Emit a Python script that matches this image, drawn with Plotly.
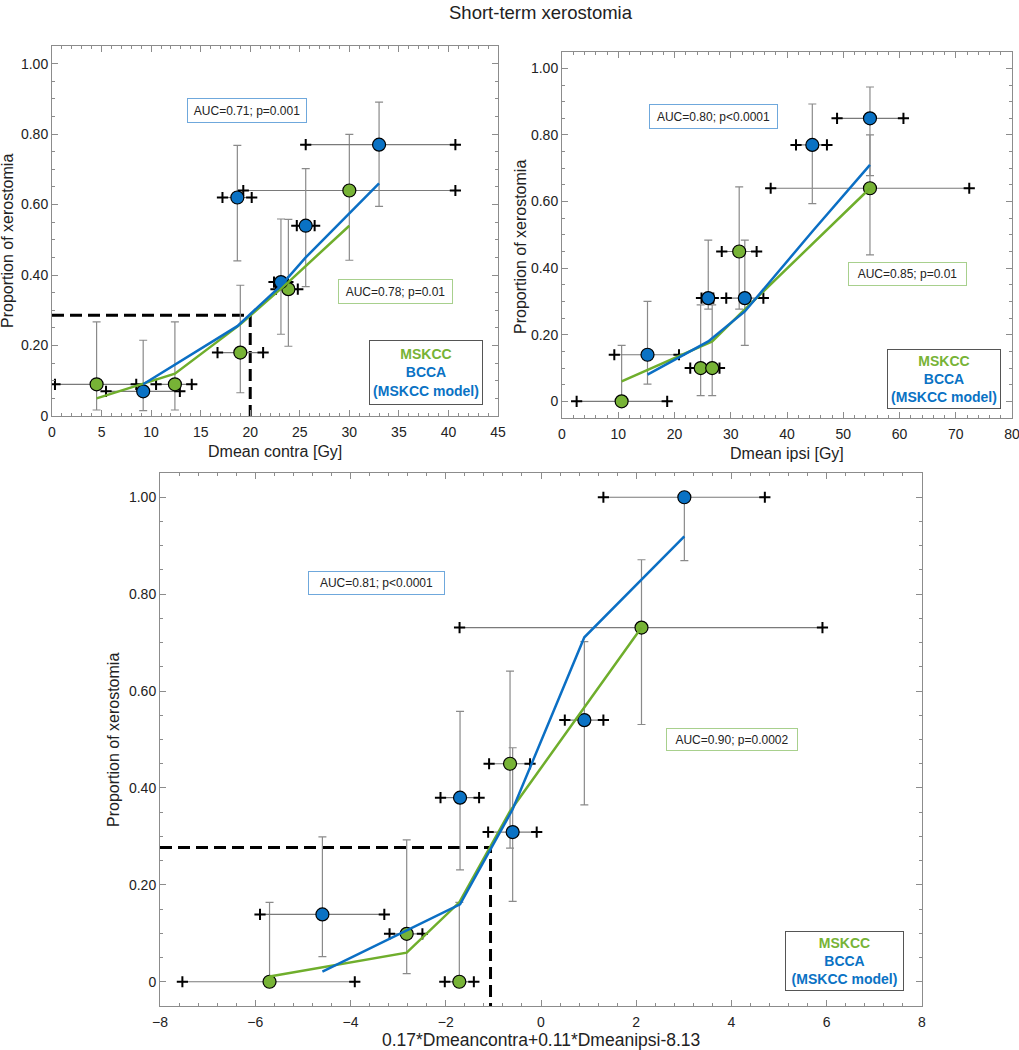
import plotly.graph_objects as go

W, H = 1019, 1050
FONT = "Liberation Sans, Arial, sans-serif"
GREEN_M = "#77b336"
BLUE_M = "#0a72c4"
GREEN_L = "#6fae2c"
BLUE_L = "#0b6fc4"
GRID = "#8c8c8c"

# ---------------- Panel A: Dmean contra ----------------
a_green_x = [4.5, 12.4, 19.0, 23.85, 30.0]
a_green_y = [0.09, 0.09, 0.18, 0.36, 0.64]
a_green_ylo = [0.017, 0.017, 0.066, 0.198, 0.442]
a_green_yhi = [0.267, 0.267, 0.371, 0.558, 0.799]
a_green_xlo = [0.3, 10.5, 16.7, 22.6, 19.3]
a_green_xhi = [8.5, 14.1, 21.3, 24.8, 40.7]
a_green_fit = [0.05, 0.12, 0.26, 0.38, 0.54]

a_blue_x = [9.2, 18.7, 23.1, 25.6, 33.0]
a_blue_y = [0.07, 0.62, 0.38, 0.54, 0.77]
a_blue_ylo = [0.015, 0.44, 0.232, 0.367, 0.595]
a_blue_yhi = [0.215, 0.768, 0.559, 0.702, 0.891]
a_blue_xlo = [5.45, 17.2, 22.4, 24.7, 25.6]
a_blue_xhi = [12.9, 20.15, 23.8, 26.5, 40.7]
a_blue_fit = [0.09, 0.255, 0.37, 0.45, 0.66]

a_thr_x, a_thr_y = 20.0, 0.286

# ---------------- Panel B: Dmean ipsi ----------------
b_green_x = [10.6, 24.65, 26.7, 31.5, 54.75]
b_green_y = [0.0, 0.10, 0.10, 0.45, 0.64]
b_green_ylo = [0.0, 0.017, 0.017, 0.277, 0.44]
b_green_yhi = [0.168, 0.29, 0.29, 0.644, 0.80]
b_green_xlo = [2.6, 22.8, 25.0, 28.4, 37.1]
b_green_xhi = [18.7, 26.5, 28.0, 34.6, 72.4]
b_green_fit = [0.06, 0.165, 0.18, 0.26, 0.64]

b_blue_x = [15.2, 26.0, 32.5, 44.5, 54.75]
b_blue_y = [0.14, 0.31, 0.31, 0.77, 0.85]
b_blue_ylo = [0.052, 0.277, 0.168, 0.594, 0.678]
b_blue_yhi = [0.30, 0.484, 0.484, 0.893, 0.944]
b_blue_xlo = [9.3, 24.8, 29.2, 41.6, 48.9]
b_blue_xhi = [20.8, 26.9, 35.8, 47.1, 60.7]
b_blue_fit = [0.08, 0.18, 0.27, 0.51, 0.71]

# ---------------- Panel C: combined score ----------------
c_green_x = [-5.70, -2.82, -1.715, -0.65, 2.11]
c_green_y = [0.0, 0.099, 0.0, 0.45, 0.731]
c_green_ylo = [0.0, 0.017, 0.0, 0.276, 0.531]
c_green_yhi = [0.164, 0.293, 0.164, 0.641, 0.871]
c_green_xlo = [-7.53, -3.18, -2.02, -1.09, -1.71]
c_green_xhi = [-3.91, -2.49, -1.41, -0.23, 5.91]
c_green_fit = [0.011, 0.06, 0.164, 0.352, 0.731]

c_blue_x = [-4.59, -1.70, -0.595, 0.91, 3.01]
c_blue_y = [0.139, 0.38, 0.309, 0.54, 1.0]
c_blue_ylo = [0.052, 0.231, 0.166, 0.365, 0.869]
c_blue_yhi = [0.299, 0.558, 0.483, 0.702, 1.0]
c_blue_xlo = [-5.90, -2.11, -1.11, 0.50, 1.31]
c_blue_xhi = [-3.29, -1.30, -0.09, 1.31, 4.70]
c_blue_fit = [0.021, 0.16, 0.356, 0.711, 0.919]

c_thr_x, c_thr_y = -1.06, 0.277

y_tickvals = [0, 0.2, 0.4, 0.6, 0.8, 1.0]
y_ticktext = ["0", "0.20", "0.40", "0.60", "0.80", "1.00"]

fig = go.Figure()


def add_panel(xa, ya, gx, gy, gylo, gyhi, gxlo, gxhi, gfit,
              bx, by, bylo, byhi, bxlo, bxhi, bfit, thr=None, xmin=None, ymin=None):
    if thr is not None:
        tx, ty = thr
        fig.add_trace(go.Scatter(x=[xmin, tx, tx], y=[ty, ty, ymin], mode="lines",
                                 line=dict(color="black", width=3, dash="12px,6px"),
                                 xaxis=xa, yaxis=ya, showlegend=False, hoverinfo="skip"))
    for xs, ys, ylo, yhi, xlo, xhi in [(gx, gy, gylo, gyhi, gxlo, gxhi),
                                        (bx, by, bylo, byhi, bxlo, bxhi)]:
        fig.add_trace(go.Scatter(
            x=xs, y=ys, mode="markers",
            marker=dict(size=1, color="rgba(0,0,0,0)"),
            error_y=dict(type="data", symmetric=False,
                         array=[h - v for h, v in zip(yhi, ys)],
                         arrayminus=[v - l for l, v in zip(ylo, ys)],
                         color="#8a8a8a", thickness=1.2, width=4),
            error_x=dict(type="data", symmetric=False,
                         array=[h - v for h, v in zip(xhi, xs)],
                         arrayminus=[v - l for l, v in zip(xlo, xs)],
                         color="#7a7a7a", thickness=1.2, width=0),
            xaxis=xa, yaxis=ya, showlegend=False, hoverinfo="skip"))
        fig.add_trace(go.Scatter(
            x=list(xlo) + list(xhi), y=list(ys) + list(ys), mode="markers",
            marker=dict(symbol="cross-thin", size=8, line=dict(width=2, color="black")),
            xaxis=xa, yaxis=ya, showlegend=False, hoverinfo="skip"))
    fig.add_trace(go.Scatter(x=gx, y=gy, mode="markers",
                             marker=dict(size=13, color=GREEN_M, line=dict(width=1.2, color="black")),
                             xaxis=xa, yaxis=ya, showlegend=False))
    fig.add_trace(go.Scatter(x=bx, y=by, mode="markers",
                             marker=dict(size=13, color=BLUE_M, line=dict(width=1.2, color="black")),
                             xaxis=xa, yaxis=ya, showlegend=False))
    fig.add_trace(go.Scatter(x=gx, y=gfit, mode="lines", line=dict(color=GREEN_L, width=2.5),
                             xaxis=xa, yaxis=ya, showlegend=False))
    fig.add_trace(go.Scatter(x=bx, y=bfit, mode="lines", line=dict(color=BLUE_L, width=2.5),
                             xaxis=xa, yaxis=ya, showlegend=False))


add_panel("x", "y", a_green_x, a_green_y, a_green_ylo, a_green_yhi, a_green_xlo, a_green_xhi, a_green_fit,
          a_blue_x, a_blue_y, a_blue_ylo, a_blue_yhi, a_blue_xlo, a_blue_xhi, a_blue_fit,
          thr=(a_thr_x, a_thr_y), xmin=0, ymin=0)
add_panel("x2", "y2", b_green_x, b_green_y, b_green_ylo, b_green_yhi, b_green_xlo, b_green_xhi, b_green_fit,
          b_blue_x, b_blue_y, b_blue_ylo, b_blue_yhi, b_blue_xlo, b_blue_xhi, b_blue_fit)
add_panel("x3", "y3", c_green_x, c_green_y, c_green_ylo, c_green_yhi, c_green_xlo, c_green_xhi, c_green_fit,
          c_blue_x, c_blue_y, c_blue_ylo, c_blue_yhi, c_blue_xlo, c_blue_xhi, c_blue_fit,
          thr=(c_thr_x, c_thr_y), xmin=-8, ymin=-0.05)


def px_dom(a, b):
    return [a / W, b / W]


def py_dom(top, bottom):
    return [1 - bottom / H, 1 - top / H]


def axis_common(**kw):
    d = dict(showline=True, linecolor=GRID, linewidth=1, mirror="allticks",
             ticks="inside", ticklen=6, tickwidth=1, tickcolor=GRID,
             showgrid=False, zeroline=False, fixedrange=True, automargin=False,
             ticklabeloverflow="allow",
             tickfont=dict(family=FONT, size=14, color="#222"))
    d.update(kw)
    return d


fig.update_layout(
    template="none",
    width=W, height=H, margin=dict(l=0, r=0, t=0, b=0, pad=0, autoexpand=False),
    paper_bgcolor="white", plot_bgcolor="white",
    xaxis=axis_common(domain=px_dom(52, 498), range=[0, 45], dtick=5, tick0=0, anchor="y",
                      ticklabelstandoff=3,
                      minor=dict(ticks="inside", ticklen=3, tickcolor=GRID, dtick=1, tick0=0)),
    yaxis=axis_common(domain=py_dom(46, 416), range=[0, 1.05], tickmode="array",
                      tickvals=y_tickvals, ticktext=y_ticktext, anchor="x",
                      minor=dict(ticks="inside", ticklen=3, tickcolor=GRID, tickmode="linear", dtick=0.05, tick0=0)),
    xaxis2=axis_common(domain=px_dom(562, 1012), range=[0, 80], dtick=10, tick0=0, anchor="y2",
                       ticklabelstandoff=3,
                       minor=dict(ticks="inside", ticklen=3, tickcolor=GRID, dtick=2, tick0=0)),
    yaxis2=axis_common(domain=py_dom(51.7, 418), range=[-0.05, 1.05], tickmode="array",
                       tickvals=y_tickvals, ticktext=y_ticktext, anchor="x2",
                       minor=dict(ticks="inside", ticklen=3, tickcolor=GRID, tickmode="linear", dtick=0.05, tick0=0)),
    xaxis3=axis_common(domain=px_dom(160, 922), range=[-8, 8], dtick=2, tick0=0, anchor="y3",
                       ticklabelstandoff=3,
                       minor=dict(ticks="inside", ticklen=3, tickcolor=GRID, dtick=0.4, tick0=0)),
    yaxis3=axis_common(domain=py_dom(473, 1006), range=[-0.05, 1.05], tickmode="array",
                       tickvals=y_tickvals, ticktext=y_ticktext, anchor="x3",
                       minor=dict(ticks="inside", ticklen=3, tickcolor=GRID, tickmode="linear", dtick=0.05, tick0=0)),
)

ann = []


def paper_text(text, x, y, size, angle=0, color="#222"):
    ann.append(dict(text=text, x=x / W, y=1 - y / H, xref="paper", yref="paper",
                    showarrow=False, textangle=angle, xanchor="center", yanchor="middle",
                    font=dict(family=FONT, size=size, color=color)))


paper_text("Short-term xerostomia", 541, 12, 18.5)
paper_text("Dmean contra [Gy]", 275, 451, 16)
paper_text("Dmean ipsi [Gy]", 787, 453, 16)
paper_text("0.17*Dmeancontra+0.11*Dmeanipsi-8.13", 541, 1040, 17.5)
paper_text("Proportion of xerostomia", 8, 241, 16, angle=-90)
paper_text("Proportion of xerostomia", 520, 247, 16, angle=-90)
paper_text("Proportion of xerostomia", 113, 740, 16, angle=-90)


def box(text, xa, ya, x, y, w, h, border):
    ann.append(dict(text=text, x=x, y=y, xref=xa, yref=ya, showarrow=False,
                    xanchor="center", yanchor="middle", width=w - 10, height=h - 10,
                    borderpad=4, bordercolor=border, borderwidth=1, bgcolor="white",
                    font=dict(family=FONT, size=12, color="#222")))


BLUE_BOX = "#6fa8dc"
GREEN_BOX = "#a8d08d"
box("AUC=0.71; p=0.001", "x", "y", 19.68, 0.866, 120, 25, BLUE_BOX)
box("AUC=0.78; p=0.01", "x", "y", 34.66, 0.353, 115, 25, GREEN_BOX)
box("AUC=0.80; p<0.0001", "x2", "y2", 26.93, 0.854, 129, 25, BLUE_BOX)
box("AUC=0.85; p=0.01", "x2", "y2", 61.42, 0.382, 119, 24, GREEN_BOX)
box("AUC=0.81; p<0.0001", "x3", "y3", -3.45, 0.824, 137, 24, BLUE_BOX)
box("AUC=0.90; p=0.0002", "x3", "y3", 4.01, 0.501, 132, 23, GREEN_BOX)

legend_txt = ("<b><span style='color:%s'>MSKCC</span><br>"
              "<span style='color:%s'>BCCA</span><br>"
              "<span style='color:%s'>(MSKCC model)</span></b>") % (GREEN_M, BLUE_M, BLUE_M)


def legend_box(xa, ya, x, y, w, h):
    ann.append(dict(text=legend_txt, x=x, y=y, xref=xa, yref=ya, showarrow=False,
                    xanchor="center", yanchor="middle", width=w - 8, height=h - 8,
                    borderpad=3, bordercolor="#555", borderwidth=1, bgcolor="white",
                    font=dict(family=FONT, size=14)))


legend_box("x", "y", 37.74, 0.123, 114, 65)
legend_box("x2", "y2", 67.9, 0.068, 114, 60)
legend_box("x3", "y3", 6.37, 0.042, 119, 60)

fig.update_layout(annotations=ann)
fig.write_html("out.html", config={"displayModeBar": False},
               post_script="document.body.style.margin='0';document.body.style.overflow='hidden';")
